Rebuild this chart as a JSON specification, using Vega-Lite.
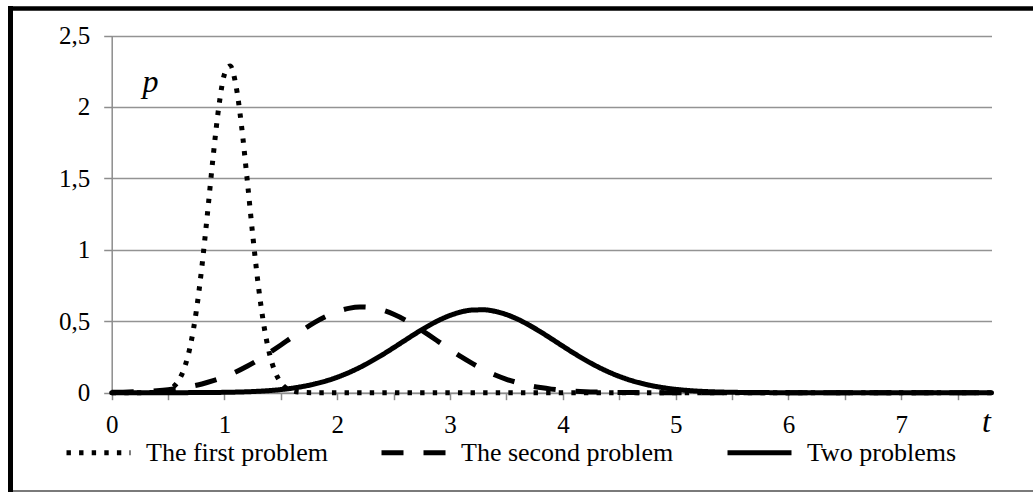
{
  "$schema": "https://vega.github.io/schema/vega-lite/v6.json",
  "width": 1023,
  "height": 484,
  "autosize": {"type": "none"},
  "padding": {"left": 10, "top": 8, "right": 0, "bottom": 0},
  "background": "white",
  "config": {
    "font": "Liberation Serif",
    "view": {"fill": "white", "stroke": null},
    "line": {"strokeJoin": "round", "strokeWidth": 5, "color": "black"}
  },
  "datasets": {
    "frame": [{"a": 0}, {"a": 1}],
    "first": [
      {"t": 0, "p": 0}, {"t": 0.1, "p": 0}, {"t": 0.2, "p": 0}, {"t": 0.3, "p": 0.0003}, {"t": 0.4, "p": 0.0026},
      {"t": 0.5, "p": 0.0185}, {"t": 0.55, "p": 0.043}, {"t": 0.6, "p": 0.094}, {"t": 0.65, "p": 0.186},
      {"t": 0.7, "p": 0.339}, {"t": 0.75, "p": 0.571}, {"t": 0.8, "p": 0.885}, {"t": 0.85, "p": 1.262},
      {"t": 0.9, "p": 1.657}, {"t": 0.95, "p": 2.003}, {"t": 1.0, "p": 2.23}, {"t": 1.05, "p": 2.286},
      {"t": 1.1, "p": 2.157}, {"t": 1.15, "p": 1.875}, {"t": 1.2, "p": 1.5}, {"t": 1.25, "p": 1.106},
      {"t": 1.3, "p": 0.75}, {"t": 1.35, "p": 0.468}, {"t": 1.4, "p": 0.269}, {"t": 1.45, "p": 0.143},
      {"t": 1.5, "p": 0.07}, {"t": 1.6, "p": 0.013}, {"t": 1.7, "p": 0.002}, {"t": 1.8, "p": 0},
      {"t": 1.9, "p": 0}, {"t": 2.0, "p": 0}, {"t": 2.1, "p": 0}, {"t": 2.2, "p": 0}, {"t": 2.3, "p": 0},
      {"t": 2.4, "p": 0}, {"t": 2.5, "p": 0}, {"t": 2.6, "p": 0}, {"t": 2.7, "p": 0}, {"t": 2.8, "p": 0},
      {"t": 2.9, "p": 0}, {"t": 3.0, "p": 0}, {"t": 3.1, "p": 0}, {"t": 3.2, "p": 0}, {"t": 3.3, "p": 0},
      {"t": 3.4, "p": 0}, {"t": 3.5, "p": 0}, {"t": 3.6, "p": 0}, {"t": 3.7, "p": 0}, {"t": 3.8, "p": 0},
      {"t": 3.9, "p": 0}, {"t": 4.0, "p": 0}, {"t": 4.1, "p": 0}, {"t": 4.2, "p": 0}, {"t": 4.3, "p": 0},
      {"t": 4.4, "p": 0}, {"t": 4.5, "p": 0}, {"t": 4.6, "p": 0}, {"t": 4.7, "p": 0}, {"t": 4.8, "p": 0},
      {"t": 4.9, "p": 0}, {"t": 5.0, "p": 0}, {"t": 5.1, "p": 0}, {"t": 5.2, "p": 0}, {"t": 5.3, "p": 0},
      {"t": 5.4, "p": 0}, {"t": 5.5, "p": 0}, {"t": 5.6, "p": 0}, {"t": 5.7, "p": 0}, {"t": 5.8, "p": 0},
      {"t": 5.9, "p": 0}, {"t": 6.0, "p": 0}, {"t": 6.1, "p": 0}, {"t": 6.2, "p": 0}, {"t": 6.3, "p": 0},
      {"t": 6.4, "p": 0}, {"t": 6.5, "p": 0}, {"t": 6.6, "p": 0}, {"t": 6.7, "p": 0}, {"t": 6.8, "p": 0},
      {"t": 6.9, "p": 0}, {"t": 7.0, "p": 0}, {"t": 7.1, "p": 0}, {"t": 7.2, "p": 0}, {"t": 7.3, "p": 0},
      {"t": 7.4, "p": 0}, {"t": 7.5, "p": 0}, {"t": 7.6, "p": 0}, {"t": 7.7, "p": 0}, {"t": 7.8, "p": 0}
    ],
    "second": [
      {"t": 0, "p": 0.0023}, {"t": 0.1, "p": 0.0037}, {"t": 0.2, "p": 0.006}, {"t": 0.3, "p": 0.009},
      {"t": 0.4, "p": 0.014}, {"t": 0.5, "p": 0.021}, {"t": 0.6, "p": 0.031}, {"t": 0.7, "p": 0.044},
      {"t": 0.8, "p": 0.061}, {"t": 0.9, "p": 0.084}, {"t": 1.0, "p": 0.111}, {"t": 1.1, "p": 0.145},
      {"t": 1.2, "p": 0.185}, {"t": 1.3, "p": 0.23}, {"t": 1.4, "p": 0.281}, {"t": 1.5, "p": 0.334},
      {"t": 1.6, "p": 0.389}, {"t": 1.7, "p": 0.442}, {"t": 1.8, "p": 0.492}, {"t": 1.9, "p": 0.534},
      {"t": 2.0, "p": 0.568}, {"t": 2.1, "p": 0.59}, {"t": 2.2, "p": 0.6}, {"t": 2.3, "p": 0.596},
      {"t": 2.4, "p": 0.578}, {"t": 2.5, "p": 0.549}, {"t": 2.6, "p": 0.51}, {"t": 2.7, "p": 0.462},
      {"t": 2.8, "p": 0.41}, {"t": 2.9, "p": 0.356}, {"t": 3.0, "p": 0.302}, {"t": 3.1, "p": 0.25},
      {"t": 3.2, "p": 0.203}, {"t": 3.3, "p": 0.161}, {"t": 3.4, "p": 0.124}, {"t": 3.5, "p": 0.094},
      {"t": 3.6, "p": 0.07}, {"t": 3.7, "p": 0.05}, {"t": 3.8, "p": 0.036}, {"t": 3.9, "p": 0.025},
      {"t": 4.0, "p": 0.017}, {"t": 4.1, "p": 0.011}, {"t": 4.2, "p": 0.007}, {"t": 4.3, "p": 0.0045},
      {"t": 4.4, "p": 0.003}, {"t": 4.5, "p": 0.0017}, {"t": 4.6, "p": 0.001}, {"t": 4.7, "p": 0},
      {"t": 4.8, "p": 0}, {"t": 4.9, "p": 0}, {"t": 5.0, "p": 0}, {"t": 5.1, "p": 0}, {"t": 5.2, "p": 0},
      {"t": 5.3, "p": 0}, {"t": 5.4, "p": 0}, {"t": 5.5, "p": 0}, {"t": 5.6, "p": 0}, {"t": 5.7, "p": 0},
      {"t": 5.8, "p": 0}, {"t": 5.9, "p": 0}, {"t": 6.0, "p": 0}, {"t": 6.1, "p": 0}, {"t": 6.2, "p": 0},
      {"t": 6.3, "p": 0}, {"t": 6.4, "p": 0}, {"t": 6.5, "p": 0}, {"t": 6.6, "p": 0}, {"t": 6.7, "p": 0},
      {"t": 6.8, "p": 0}, {"t": 6.9, "p": 0}, {"t": 7.0, "p": 0}, {"t": 7.1, "p": 0}, {"t": 7.2, "p": 0},
      {"t": 7.3, "p": 0}, {"t": 7.4, "p": 0}, {"t": 7.5, "p": 0}, {"t": 7.6, "p": 0}, {"t": 7.7, "p": 0},
      {"t": 7.8, "p": 0}
    ],
    "both": [
      {"t": 0, "p": 0}, {"t": 0.1, "p": 0}, {"t": 0.2, "p": 0}, {"t": 0.3, "p": 0}, {"t": 0.4, "p": 0},
      {"t": 0.5, "p": 0}, {"t": 0.6, "p": 0.0003}, {"t": 0.7, "p": 0.0006}, {"t": 0.8, "p": 0.001},
      {"t": 0.9, "p": 0.0016}, {"t": 1.0, "p": 0.0026}, {"t": 1.1, "p": 0.0042}, {"t": 1.2, "p": 0.0065},
      {"t": 1.3, "p": 0.01}, {"t": 1.4, "p": 0.0149}, {"t": 1.5, "p": 0.0219}, {"t": 1.6, "p": 0.0315},
      {"t": 1.7, "p": 0.0442}, {"t": 1.8, "p": 0.0609}, {"t": 1.9, "p": 0.0821}, {"t": 2.0, "p": 0.1083},
      {"t": 2.1, "p": 0.1399}, {"t": 2.2, "p": 0.1769}, {"t": 2.3, "p": 0.2191}, {"t": 2.4, "p": 0.2656},
      {"t": 2.5, "p": 0.3153}, {"t": 2.6, "p": 0.3664}, {"t": 2.7, "p": 0.4169}, {"t": 2.8, "p": 0.4645},
      {"t": 2.9, "p": 0.5066}, {"t": 3.0, "p": 0.5409}, {"t": 3.1, "p": 0.5655}, {"t": 3.2, "p": 0.5788},
      {"t": 3.3, "p": 0.58}, {"t": 3.4, "p": 0.5691}, {"t": 3.5, "p": 0.5467}, {"t": 3.6, "p": 0.5141},
      {"t": 3.7, "p": 0.4733}, {"t": 3.8, "p": 0.4268}, {"t": 3.9, "p": 0.3767}, {"t": 4.0, "p": 0.3255},
      {"t": 4.1, "p": 0.2753}, {"t": 4.2, "p": 0.2281}, {"t": 4.3, "p": 0.185}, {"t": 4.4, "p": 0.1469},
      {"t": 4.5, "p": 0.1142}, {"t": 4.6, "p": 0.0869}, {"t": 4.7, "p": 0.0647}, {"t": 4.8, "p": 0.0472},
      {"t": 4.9, "p": 0.0338}, {"t": 5.0, "p": 0.0236}, {"t": 5.1, "p": 0.0162}, {"t": 5.2, "p": 0.0108},
      {"t": 5.3, "p": 0.0071}, {"t": 5.4, "p": 0.0046}, {"t": 5.5, "p": 0.0029}, {"t": 5.6, "p": 0.0018},
      {"t": 5.7, "p": 0.0011}, {"t": 5.8, "p": 0.0006}, {"t": 5.9, "p": 0.0004}, {"t": 6.0, "p": 0},
      {"t": 6.1, "p": 0}, {"t": 6.2, "p": 0}, {"t": 6.3, "p": 0}, {"t": 6.4, "p": 0}, {"t": 6.5, "p": 0},
      {"t": 6.6, "p": 0}, {"t": 6.7, "p": 0}, {"t": 6.8, "p": 0}, {"t": 6.9, "p": 0}, {"t": 7.0, "p": 0},
      {"t": 7.1, "p": 0}, {"t": 7.2, "p": 0}, {"t": 7.3, "p": 0}, {"t": 7.4, "p": 0}, {"t": 7.5, "p": 0},
      {"t": 7.6, "p": 0}, {"t": 7.7, "p": 0}, {"t": 7.8, "p": 0}
    ]
  },
  "resolve": {
    "scale": {"x": "independent", "y": "independent"},
    "axis": {"x": "independent", "y": "independent"}
  },
  "layer": [
    {
      "description": "outer frame: top and left edges",
      "data": {"name": "frame"},
      "mark": {"type": "point", "opacity": 0},
      "encoding": {
        "x": {
          "field": "a", "type": "quantitative",
          "scale": {"domain": [0, 1], "nice": false, "zero": false},
          "axis": {"orient": "top", "title": null, "labels": false, "ticks": false, "grid": false,
                   "domainColor": "black", "domainWidth": 4.5, "domainCap": "square", "offset": 0}
        },
        "y": {
          "field": "a", "type": "quantitative",
          "scale": {"domain": [0, 1], "nice": false, "zero": false},
          "axis": {"orient": "left", "title": null, "labels": false, "ticks": false, "grid": false,
                   "domainColor": "black", "domainWidth": 5, "domainCap": "square", "offset": 0}
        }
      }
    },
    {
      "description": "outer frame: bottom edge",
      "data": {"name": "frame"},
      "mark": {"type": "point", "opacity": 0},
      "encoding": {
        "x": {
          "field": "a", "type": "quantitative",
          "scale": {"domain": [0, 1], "nice": false, "zero": false},
          "axis": {"orient": "bottom", "title": null, "labels": false, "ticks": false, "grid": false,
                   "domainColor": "#7a7a7a", "domainWidth": 2, "offset": -1.5}
        },
        "y": {
          "field": "a", "type": "quantitative",
          "scale": {"domain": [0, 1], "nice": false, "zero": false},
          "axis": null
        }
      }
    },
    {
      "encoding": {
        "x": {
          "field": "t",
          "type": "quantitative",
          "scale": {"domain": [0, 7.8], "range": [101.7, 981.5], "nice": false, "zero": false},
          "axis": {
            "orient": "bottom",
            "offset": -99.3,
            "values": [0, 0.5, 1, 1.5, 2, 2.5, 3, 3.5, 4, 4.5, 5, 5.5, 6, 6.5, 7, 7.5],
            "labelExpr": "datum.value % 1 === 0 ? format(datum.value, 'd') : ''",
            "grid": false,
            "domainColor": "#8d8d8d",
            "domainWidth": 1.5,
            "tickColor": "#8d8d8d",
            "tickWidth": 1.5,
            "tickSize": 7,
            "labelFont": "Liberation Serif",
            "labelFontSize": 25,
            "labelColor": "black",
            "labelPadding": 13,
            "labelFlush": false,
            "labelOverlap": false,
            "title": "t",
            "titleFont": "Liberation Serif",
            "titleFontStyle": "italic",
            "titleFontWeight": "normal",
            "titleFontSize": 32,
            "titleColor": "black",
            "titleX": 976,
            "titleY": 39,
            "titleAlign": "center",
            "titleBaseline": "alphabetic"
          }
        },
        "y": {
          "field": "p",
          "type": "quantitative",
          "scale": {"domain": [0, 2.5], "range": [384.7, 27.5], "nice": false},
          "axis": {
            "orient": "left",
            "offset": -101.7,
            "values": [0, 0.5, 1, 1.5, 2, 2.5],
            "labelExpr": "replace(format(datum.value, '~g'), '.', ',')",
            "grid": true,
            "gridColor": "#939393",
            "gridWidth": 1.5,
            "domainColor": "#8d8d8d",
            "domainWidth": 1.5,
            "tickColor": "#8d8d8d",
            "tickWidth": 1.5,
            "tickSize": 8,
            "labelFont": "Liberation Serif",
            "labelFontSize": 25,
            "labelColor": "black",
            "labelPadding": 14,
            "labelFlush": false,
            "labelOverlap": false,
            "title": "p",
            "titleFont": "Liberation Serif",
            "titleFontStyle": "italic",
            "titleFontWeight": "normal",
            "titleFontSize": 32,
            "titleColor": "black",
            "titleAngle": 0,
            "titleX": 38.3,
            "titleY": 83.4,
            "titleAlign": "center",
            "titleBaseline": "alphabetic"
          }
        }
      },
      "layer": [
        {
          "data": {"name": "first"},
          "mark": {"type": "line", "interpolate": "monotone", "strokeWidth": 5, "strokeCap": "butt"},
          "encoding": {
            "strokeDash": {
              "datum": "The first problem",
              "type": "nominal",
              "scale": {
                "domain": ["The first problem", "The second problem", "Two problems"],
                "range": [[4.4, 8.2], [22, 20], [1, 0]]
              },
              "legend": {
                "orient": "none",
                "legendX": 54,
                "legendY": 410,
                "direction": "horizontal",
                "title": null,
                "padding": 0,
                "symbolType": "stroke",
                "symbolSize": 4096,
                "symbolStrokeWidth": 5,
                "symbolStrokeColor": "black",
                "labelFont": "Liberation Serif",
                "labelFontSize": 26,
                "labelColor": "black",
                "labelOffset": 13,
                "labelLimit": 400,
                "columnPadding": 51
              }
            }
          }
        },
        {
          "data": {"name": "second"},
          "mark": {"type": "line", "interpolate": "monotone", "strokeWidth": 5, "strokeCap": "butt"},
          "encoding": {"strokeDash": {"datum": "The second problem", "type": "nominal"}}
        },
        {
          "data": {"name": "both"},
          "mark": {"type": "line", "interpolate": "monotone", "strokeWidth": 5, "strokeCap": "round"},
          "encoding": {"strokeDash": {"datum": "Two problems", "type": "nominal"}}
        }
      ]
    }
  ]
}
